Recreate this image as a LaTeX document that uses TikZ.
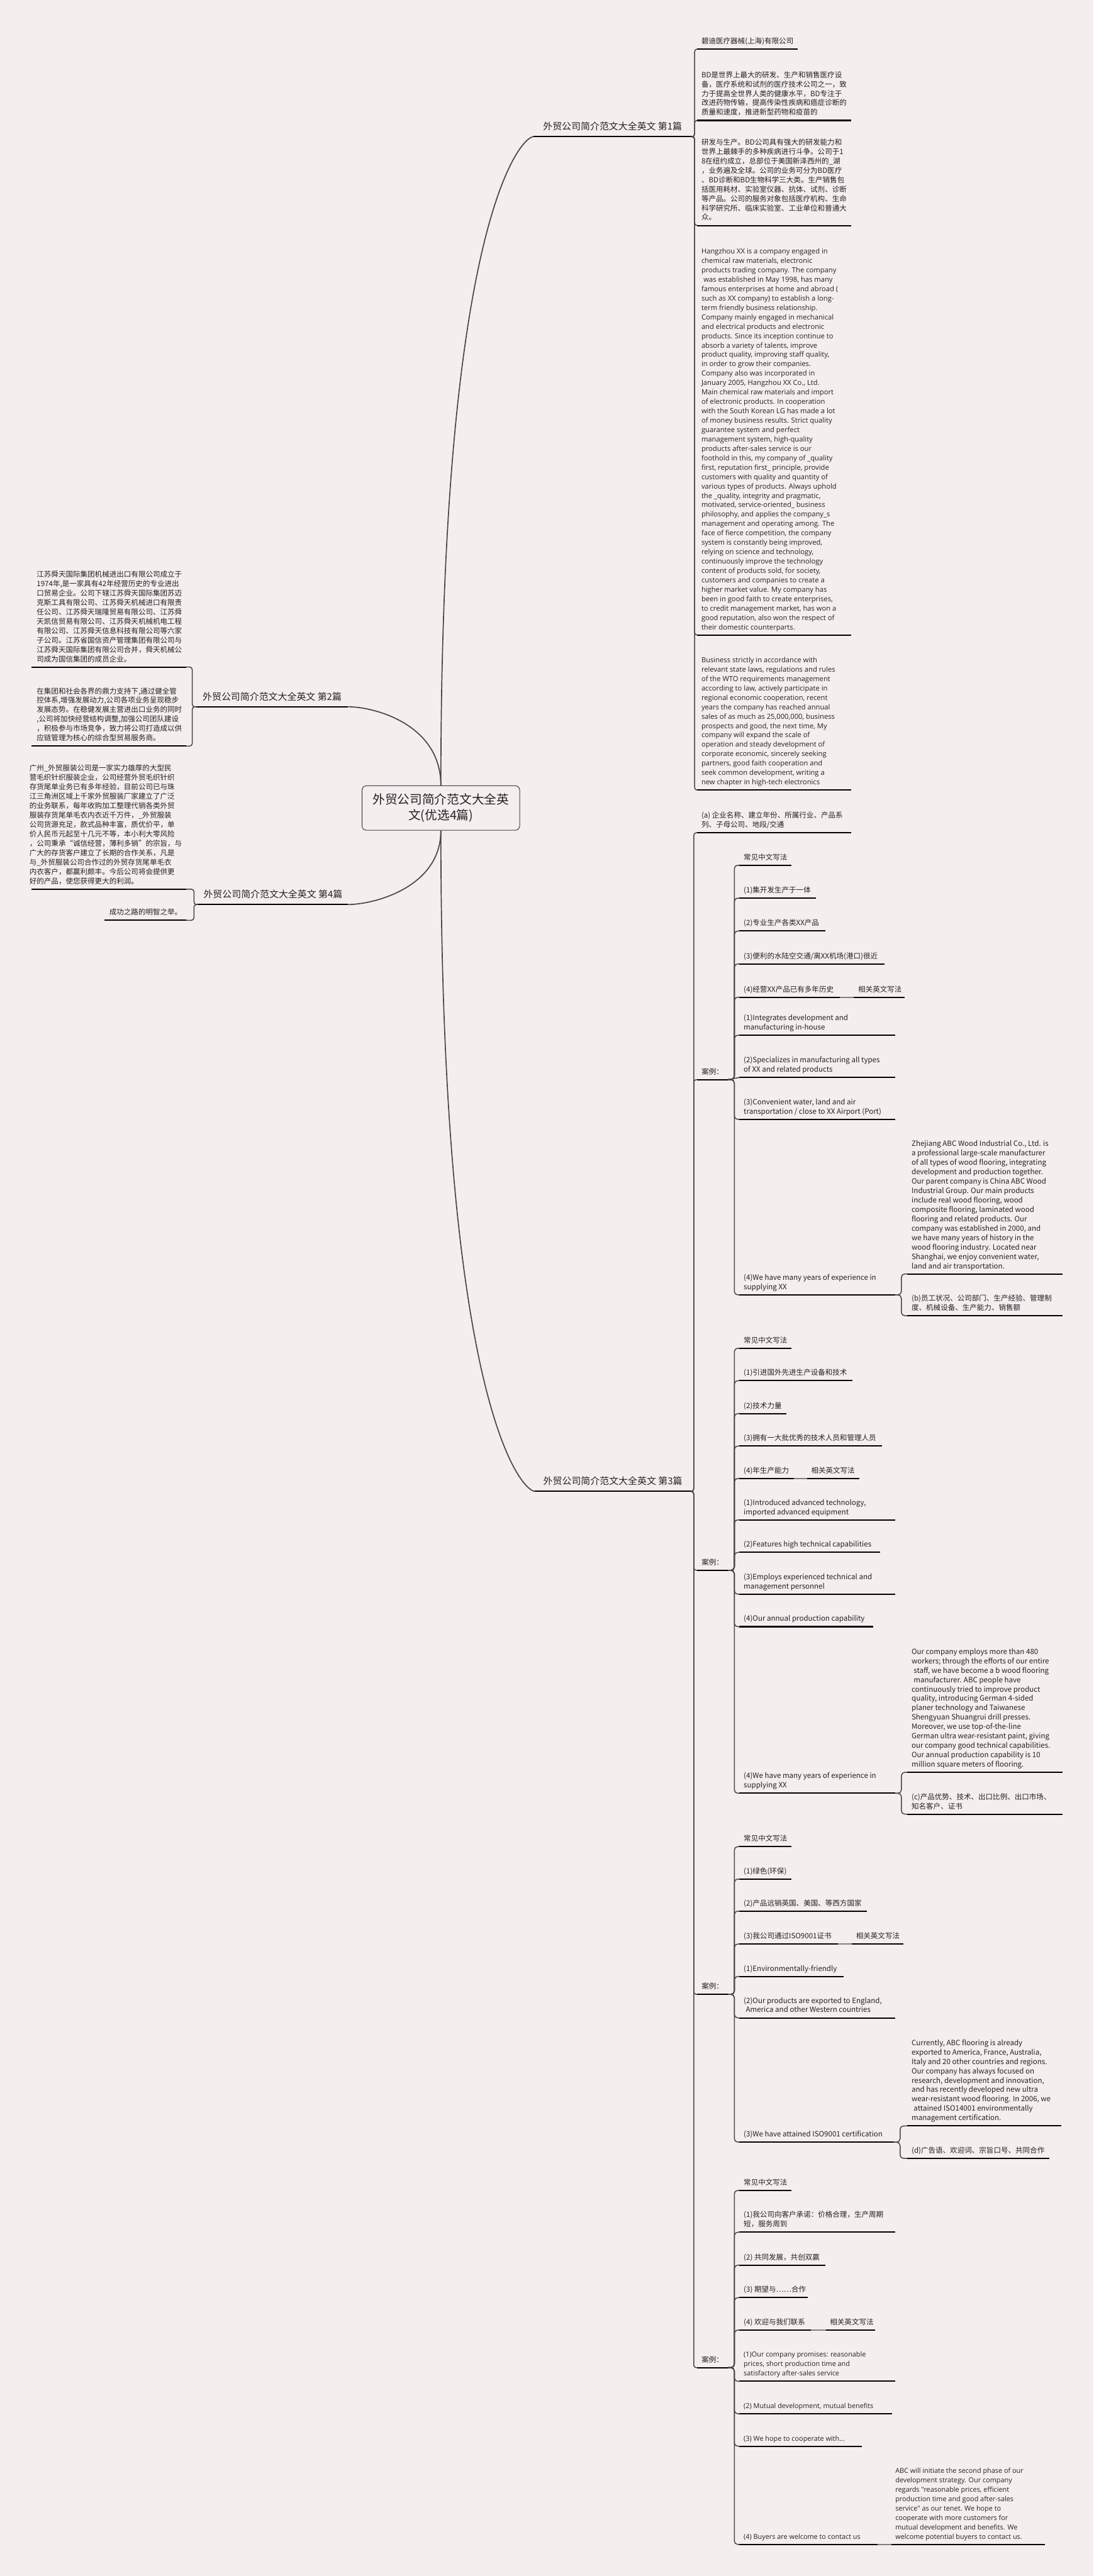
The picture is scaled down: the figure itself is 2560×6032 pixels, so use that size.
\documentclass[tikz,border=0pt]{standalone}
\usepackage{fontspec}
\setmainfont{Noto Sans CJK SC}
\newfontfamily\osfont{Open Sans}
\definecolor{bgpink}{RGB}{245,238,239}
\definecolor{inkgray}{RGB}{70,70,70}
\definecolor{inkdark}{RGB}{34,34,34}
\begin{document}
\begin{tikzpicture}[x=1pt, y=-1pt,
        uline/.style={draw=black, line width=3pt},
        conn/.style={draw=inkgray, line width=2.2pt, rounded corners=6pt,
            to path={-- ++(7,0) |- (\tikztotarget)}},
        wconn/.style={draw=inkgray, line width=2.2pt, rounded corners=8pt,
            to path={-- ++(15,0) |- (\tikztotarget)}},
        lconn/.style={draw=inkgray, line width=2.2pt, rounded corners=6pt,
            to path={-- ++(-9,0) |- (\tikztotarget)}},
        hconn/.style={draw=black!50, line width=3pt},
        trunk/.style={draw=inkgray, line width=2.5pt},
        leaf/.style={anchor=south west, align=left, inner xsep=10pt, inner ysep=6pt, outer sep=0pt,
            text=inkdark, font=\fontsize{17}{22}\selectfont, execute at end node=\strut,
            append after command={(\tikzlastnode.south west) edge[uline] ++(#1,0)}},
        lleaf/.style={anchor=south east, align=left, inner xsep=10pt, inner ysep=6pt, outer sep=0pt,
            text=inkdark, font=\fontsize{17}{22}\selectfont, execute at end node=\strut,
            append after command={(\tikzlastnode.south east) edge[uline] ++(-#1,0)}},
        osf/.style={font=\osfont\fontsize{#1}{22}\selectfont},
        topic/.style={inner xsep=12pt, inner ysep=8pt, outer sep=0pt, minimum width=#1, text=inkdark,
            font=\fontsize{22}{26}\selectfont, execute at end node=\strut,
            append after command={(\tikzlastnode.south west) edge[uline] (\tikzlastnode.south east)}},
        casebox/.style={anchor=south west, inner xsep=10pt, inner ysep=6pt, outer sep=0pt,
            minimum width=72pt, text=inkdark, font=\fontsize{17}{22}\selectfont, execute at end node=\strut,
            append after command={(\tikzlastnode.south west) edge[uline] (\tikzlastnode.south east)}},
        root/.style={draw=inkgray, line width=1.6pt, rounded corners=10pt, fill=bgpink,
            minimum width=369pt, minimum height=104pt, align=center, text=inkdark,
            font=\fontsize{29}{36}\selectfont}
    ]
    \fill[bgpink] (0,0) rectangle (2560,6032);
    \useasboundingbox (0,0) rectangle (2560,6032);

    \node[root] (root) at (1032,1892) {外贸公司简介范文大全英\\文(优选4篇)};

    \node[topic=370pt, anchor=south west] (t1) at (1249,320) {外贸公司简介范文大全英文 第1篇};
    \node[topic=356pt, anchor=south east] (t2) at (815,1655) {外贸公司简介范文大全英文 第2篇};
    \node[topic=365pt, anchor=south west] (t3) at (1252,3492) {外贸公司简介范文大全英文 第3篇};
    \node[topic=352pt, anchor=south east] (t4) at (815,2118) {外贸公司简介范文大全英文 第4篇};

    \draw[trunk] (root.north) .. controls ([yshift=-200pt]root.north |- t1.south west) and ([xshift=-30pt]t1.south west) .. (t1.south west);
    \draw[trunk] (root.north) .. controls ([yshift=-40pt]root.north |- t2.south east) and ([xshift=60pt]t2.south east) .. (t2.south east);
    \draw[trunk] (root.south) .. controls ([yshift=200pt]root.south |- t3.south west) and ([xshift=-30pt]t3.south west) .. (t3.south west);
    \draw[trunk] (root.south) .. controls ([yshift=40pt]root.south |- t4.south east) and ([xshift=60pt]t4.south east) .. (t4.south east);

    \node[leaf=236] (p11) at (1632,115) {碧迪医疗器械(上海)有限公司};
    \node[leaf=361] (p12) at (1632,282) {BD是世界上最大的研发、生产和销售医疗设\\备，医疗系统和试剂的医疗技术公司之一，致\\力于提高全世界人类的健康水平，BD专注于\\改进药物传输，提高传染性疾病和癌症诊断的\\质量和速度，推进新型药物和疫苗的};
    \node[leaf=361] (p13) at (1632,528) {研发与生产。BD公司具有强大的研发能力和\\世界上最棘手的多种疾病进行斗争。公司于1\\8在纽约成立，总部位于美国新泽西州的\_湖\\，业务遍及全球。公司的业务可分为BD医疗\\、BD诊断和BD生物科学三大类。生产销售包\\括医用耗材、实验室仪器、抗体、试剂、诊断\\等产品。公司的服务对象包括医疗机构、生命\\科学研究所、临床实验室、工业单位和普通大\\众。};
    \node[leaf=361, osf=16.5] (p14) at (1632,1487) {Hangzhou XX is a company engaged in\\chemical raw materials, electronic\\products trading company. The company\\\hspace*{5pt}was established in May 1998, has many\\famous enterprises at home and abroad (\\such as XX company) to establish a long-\\term friendly business relationship.\\Company mainly engaged in mechanical\\and electrical products and electronic\\products. Since its inception continue to\\absorb a variety of talents, improve\\product quality, improving staff quality,\\in order to grow their companies.\\Company also was incorporated in\\January 2005, Hangzhou XX Co., Ltd.\\Main chemical raw materials and import\\of electronic products. In cooperation\\with the South Korean LG has made a lot\\of money business results. Strict quality\\guarantee system and perfect\\management system, high-quality\\products after-sales service is our\\foothold in this, my company of \_quality\\first, reputation first\_ principle, provide\\customers with quality and quantity of\\various types of products. Always uphold\\the \_quality, integrity and pragmatic,\\motivated, service-oriented\_ business\\philosophy, and applies the company\_s\\management and operating among. The\\face of fierce competition, the company\\system is constantly being improved,\\relying on science and technology,\\continuously improve the technology\\content of products sold, for society,\\customers and companies to create a\\higher market value. My company has\\been in good faith to create enterprises,\\to credit management market, has won a\\good reputation, also won the respect of\\their domestic counterparts.};
    \node[leaf=361, osf=16.5] (p15) at (1632,1850) {Business strictly in accordance with\\relevant state laws, regulations and rules\\of the WTO requirements management\\according to law, actively participate in\\regional economic cooperation, recent\\years the company has reached annual\\sales of as much as 25,000,000, business\\prospects and good, the next time, My\\company will expand the scale of\\operation and steady development of\\corporate economic, sincerely seeking\\partners, good faith cooperation and\\seek common development, writing a\\new chapter in high-tech electronics};
    \path (t1.south east) edge[conn] (p11.south west) edge[conn] (p12.south west) edge[conn] (p13.south west)
        edge[conn] (p14.south west) edge[conn] (p15.south west);

    \node[lleaf=363] (q21) at (436,1562) {江苏舜天国际集团机械进出口有限公司成立于\\1974年,是一家具有42年经营历史的专业进出\\口贸易企业。公司下辖江苏舜天国际集团苏迈\\克斯工具有限公司、江苏舜天机械进口有限责\\任公司、江苏舜天瑞隆贸易有限公司、江苏舜\\天凯信贸易有限公司、江苏舜天机械机电工程\\有限公司、江苏舜天信息科技有限公司等六家\\子公司。江苏省国信资产管理集团有限公司与\\江苏舜天国际集团有限公司合并，舜天机械公\\司成为国信集团的成员企业。};
    \node[lleaf=363] (q22) at (436,1747) {在集团和社会各界的鼎力支持下,通过健全管\\控体系,增强发展动力,公司各项业务呈现稳步\\发展态势。在稳健发展主营进出口业务的同时\\,公司将加快经营结构调整,加强公司团队建设\\，积极参与市场竞争，致力将公司打造成以供\\应链管理为核心的综合型贸易服务商。};
    \path (t2.south west) edge[lconn] (q21.south east) edge[lconn] (q22.south east);

    \node[lleaf=363] (q41) at (436,2082) {广州\_外贸服装公司是一家实力雄厚的大型民\\营毛织针织服装企业，公司经营外贸毛织针织\\存货尾单业务已有多年经验，目前公司已与珠\\江三角洲区域上千家外贸服装厂家建立了广泛\\的业务联系，每年收购加工整理代销各类外贸\\服装存货尾单毛衣内衣近千万件，\_外贸服装\\公司货源充足，款式品种丰富，质优价平，单\\价人民币元起至十几元不等，本小利大零风险\\，公司秉承“诚信经营，薄利多销”的宗旨，与\\广大的存货客户建立了长期的合作关系，凡是\\与\_外贸服装公司合作过的外贸存货尾单毛衣\\内衣客户，都赢利颇丰。今后公司将会提供更\\好的产品，使您获得更大的利润。};
    \node[lleaf=191] (q42) at (436,2155) {成功之路的明智之举。};
    \path (t4.south west) edge[lconn] (q41.south east) edge[lconn] (q42.south east);

    \node[leaf=361] (r3a) at (1632,1950) {(a) 企业名称、建立年份、所属行业、产品系\\列、子母公司、地段/交通};
    \node[casebox] (ka) at (1632,2528) {案例：};
    \node[casebox] (kb) at (1632,3677) {案例：};
    \node[casebox] (kc) at (1632,4670) {案例：};
    \node[casebox] (kd) at (1632,5544) {案例：};
    \path (t3.south east) edge[conn] (r3a.south west) edge[conn] (ka.south west) edge[conn] (kb.south west)
        edge[conn] (kc.south west) edge[conn] (kd.south west);

    \node[leaf=122] (a0) at (1731,2026) {常见中文写法};
    \node[leaf=179] (a1) at (1731,2103) {(1)集开发生产于一体};
    \node[leaf=201] (a2) at (1731,2180) {(2)专业生产各类XX产品};
    \node[leaf=340] (a3) at (1731,2257) {(3)便利的水陆空交通/离XX机场(港口)很近};
    \node[leaf=235] (a4) at (1731,2335) {(4)经营XX产品已有多年历史};
    \node[leaf=119] (a4r) at (1999,2335) {相关英文写法};
    \node[leaf=364] (a5) at (1731,2424) {(1)Integrates development and\\manufacturing in-house};
    \node[leaf=364] (a6) at (1731,2523) {(2)Specializes in manufacturing all types\\of XX and related products};
    \node[leaf=364] (a7) at (1731,2621) {(3)Convenient water, land and air\\transportation / close to XX Airport (Port)};
    \node[leaf=364] (a8) at (1731,3032) {(4)We have many years of experience in\\supplying XX};
    \node[leaf=363] (a8a) at (2124,2983) {Zhejiang ABC Wood Industrial Co., Ltd. is\\a professional large-scale manufacturer\\of all types of wood flooring, integrating\\development and production together.\\Our parent company is China ABC Wood\\Industrial Group. Our main products\\include real wood flooring, wood\\composite flooring, laminated wood\\flooring and related products. Our\\company was established in 2000, and\\we have many years of history in the\\wood flooring industry. Located near\\Shanghai, we enjoy convenient water,\\land and air transportation.};
    \node[leaf=363] (a8b) at (2124,3081) {(b)员工状况、公司部门、生产经验、管理制\\度、机械设备、生产能力、销售额};
    \path (ka.south east) edge[wconn] (a0.south west) edge[wconn] (a1.south west) edge[wconn] (a2.south west)
        edge[wconn] (a3.south west) edge[wconn] (a4.south west) edge[wconn] (a5.south west)
        edge[wconn] (a7.south west) edge[wconn] (a8.south west);
    \draw[draw=inkgray, line width=2.2pt] (ka.south east) -- (a6.south west);
    \draw[hconn] ([xshift=235pt]a4.south west) -- (a4r.south west);
    \path ([xshift=364pt]a8.south west) edge[wconn] (a8a.south west) edge[wconn] (a8b.south west);

    \node[leaf=122] (b0) at (1731,3157) {常见中文写法};
    \node[leaf=265] (b1) at (1731,3233) {(1)引进国外先进生产设备和技术};
    \node[leaf=110] (b2) at (1731,3310) {(2)技术力量};
    \node[leaf=333] (b3) at (1731,3386) {(3)拥有一大批优秀的技术人员和管理人员};
    \node[leaf=128] (b4) at (1731,3462) {(4)年生产能力};
    \node[leaf=122] (b4r) at (1889,3462) {相关英文写法};
    \node[leaf=364] (b5) at (1731,3559) {(1)Introduced advanced technology,\\imported advanced equipment};
    \node[leaf=329] (b6) at (1731,3635) {(2)Features high technical capabilities};
    \node[leaf=364] (b7) at (1731,3733) {(3)Employs experienced technical and\\management personnel};
    \node[leaf=313] (b8) at (1731,3809) {(4)Our annual production capability};
    \node[leaf=364] (b9) at (1731,4199) {(4)We have many years of experience in\\supplying XX};
    \node[leaf=363] (b9a) at (2124,4150) {Our company employs more than 480\\workers; through the efforts of our entire\\\hspace*{5pt}staff, we have become a b wood flooring\\\hspace*{5pt}manufacturer. ABC people have\\continuously tried to improve product\\quality, introducing German 4-sided\\planer technology and Taiwanese\\Shengyuan Shuangrui drill presses.\\Moreover, we use top-of-the-line\\German ultra wear-resistant paint, giving\\our company good technical capabilities.\\Our annual production capability is 10\\million square meters of flooring.};
    \node[leaf=363] (b9b) at (2124,4248) {(c)产品优势、技术、出口比例、出口市场、\\知名客户、证书};
    \path (kb.south east) edge[wconn] (b0.south west) edge[wconn] (b1.south west) edge[wconn] (b2.south west)
        edge[wconn] (b3.south west) edge[wconn] (b4.south west) edge[wconn] (b5.south west)
        edge[wconn] (b6.south west) edge[wconn] (b7.south west) edge[wconn] (b8.south west)
        edge[wconn] (b9.south west);
    \draw[hconn] ([xshift=128pt]b4.south west) -- (b4r.south west);
    \path ([xshift=364pt]b9.south west) edge[wconn] (b9a.south west) edge[wconn] (b9b.south west);

    \node[leaf=122] (c0) at (1731,4324) {常见中文写法};
    \node[leaf=121] (c1) at (1731,4400) {(1)绿色(环保)};
    \node[leaf=299] (c2) at (1731,4475) {(2)产品远销英国、美国、等西方国家};
    \node[leaf=231] (c3) at (1731,4552) {(3)我公司通过ISO9001证书};
    \node[leaf=120] (c3r) at (1994,4552) {相关英文写法};
    \node[leaf=244] (c4) at (1731,4628) {(1)Environmentally-friendly};
    \node[leaf=364] (c5) at (1731,4725) {(2)Our products are exported to England,\\\hspace*{5pt}America and other Western countries};
    \node[leaf=361] (c6) at (1731,5016) {(3)We have attained ISO9001 certification};
    \node[leaf=361] (c6a) at (2124,4978) {Currently, ABC flooring is already\\exported to America, France, Australia,\\Italy and 20 other countries and regions.\\Our company has always focused on\\research, development and innovation,\\and has recently developed new ultra\\wear-resistant wood flooring. In 2006, we\\\hspace*{5pt}attained ISO14001 environmentally\\management certification.};
    \node[leaf=332] (c6b) at (2124,5054) {(d)广告语、欢迎词、宗旨口号、共同合作};
    \path (kc.south east) edge[wconn] (c0.south west) edge[wconn] (c1.south west) edge[wconn] (c2.south west)
        edge[wconn] (c3.south west) edge[wconn] (c4.south west) edge[wconn] (c5.south west)
        edge[wconn] (c6.south west);
    \draw[hconn] ([xshift=231pt]c3.south west) -- (c3r.south west);
    \path ([xshift=361pt]c6.south west) edge[wconn] (c6a.south west) edge[wconn] (c6b.south west);

    \node[leaf=122] (d0) at (1731,5129) {常见中文写法};
    \node[leaf=364] (d1) at (1731,5227) {(1)我公司向客户承诺：价格合理，生产周期\\短，服务周到};
    \node[leaf=201] (d2) at (1731,5304) {(2) 共同发展，共创双赢};
    \node[leaf=160] (d3) at (1731,5380) {(3) 期望与……合作};
    \node[leaf=167] (d4) at (1731,5456) {(4) 欢迎与我们联系};
    \node[leaf=116] (d4r) at (1933,5456) {相关英文写法};
    \node[leaf=364, osf=16] (d5) at (1731,5576) {(1)Our company promises: reasonable\\prices, short production time and\\satisfactory after-sales service};
    \node[leaf=357, osf=16] (d6) at (1731,5652) {(2) Mutual development, mutual benefits};
    \node[leaf=286, osf=16] (d7) at (1731,5728) {(3) We hope to cooperate with...};
    \node[leaf=323, osf=16] (d8) at (1731,5958) {(4) Buyers are welcome to contact us};
    \node[leaf=360, osf=16] (d8a) at (2086,5958) {ABC will initiate the second phase of our\\development strategy. Our company\\regards "reasonable prices, efficient\\production time and good after-sales\\service" as our tenet. We hope to\\cooperate with more customers for\\mutual development and benefits. We\\welcome potential buyers to contact us.};
    \path (kd.south east) edge[wconn] (d0.south west) edge[wconn] (d1.south west) edge[wconn] (d2.south west)
        edge[wconn] (d3.south west) edge[wconn] (d4.south west) edge[wconn] (d5.south west)
        edge[wconn] (d6.south west) edge[wconn] (d7.south west) edge[wconn] (d8.south west);
    \draw[hconn] ([xshift=167pt]d4.south west) -- (d4r.south west);
    \draw[hconn] ([xshift=323pt]d8.south west) -- (d8a.south west);
\end{tikzpicture}
\end{document}
